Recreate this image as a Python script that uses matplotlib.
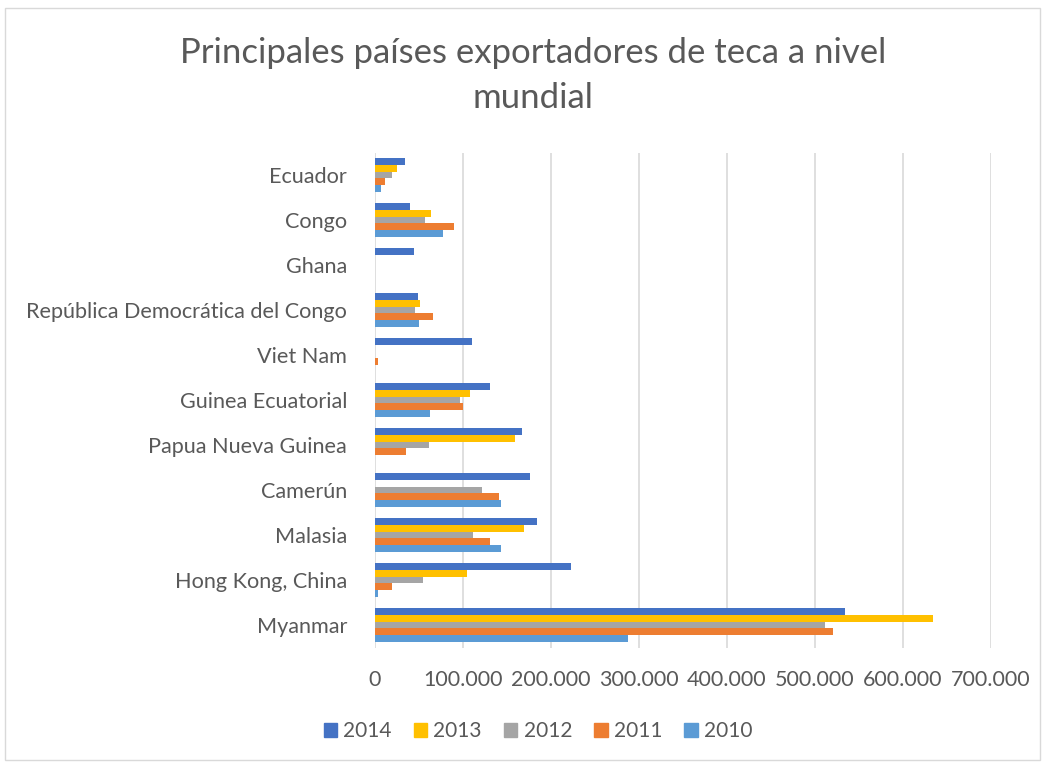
import matplotlib
matplotlib.use("Agg")
import matplotlib.pyplot as plt
from matplotlib.patches import Rectangle, Patch
import numpy as np

categories = ["Myanmar", "Hong Kong, China", "Malasia", "Camerún", "Papua Nueva Guinea",
              "Guinea Ecuatorial", "Viet Nam", "República Democrática del Congo", "Ghana",
              "Congo", "Ecuador"]
years = ["2014", "2013", "2012", "2011", "2010"]
v2014 = [533700, 222400, 184500, 176200, 167500, 131000, 109900, 48900, 44300, 40200, 34500]
v2013 = [633800, 104500, 169300, 0, 159500, 107600, 0, 51600, 0, 64000, 24700]
v2012 = [511000, 55000, 111400, 121300, 61800, 96600, 0, 45500, 0, 56800, 19300]
v2011 = [520900, 19700, 130700, 141300, 34900, 100000, 3400, 66400, 0, 89800, 11400]
v2010 = [288000, 3800, 143600, 142800, 0, 63000, 0, 49700, 0, 76900, 7200]
series = [v2014, v2013, v2012, v2011, v2010]
colors = ["#4472C4", "#FFC000", "#A5A5A5", "#ED7D31", "#5B9BD5"]
xticks = [0, 100000, 200000, 300000, 400000, 500000, 600000, 700000]
xticklabels = ["0", "100.000", "200.000", "300.000", "400.000", "500.000", "600.000", "700.000"]

plt.rcParams['font.family'] = ['Lato', 'DejaVu Sans']
fig = plt.figure(figsize=(10.47, 7.66), dpi=100)
fig.patches.append(Rectangle((5/1047, 1-760/766), 1035/1047, 752/766, transform=fig.transFigure,
                             fill=False, edgecolor="#D9D9D9", linewidth=1))
ax = fig.add_axes([375/1047, 1-647.5/766, 616/1047, 495/766])

y = np.arange(len(categories))
h = 0.147
for i, (vals, c, yr) in enumerate(zip(series, colors, years)):
    offs = (2 - i) * h
    ax.barh(y + offs, vals, height=h, color=c, label=yr, zorder=3)

ax.set_ylim(-0.5, len(categories) - 0.5)
ax.set_xlim(0, 700000)
ax.set_xticks(xticks)
ax.set_xticklabels(xticklabels)
ax.set_yticks(y)
ax.set_yticklabels(categories)
ax.tick_params(axis='x', length=0, labelsize=15.5, labelcolor="#595959", pad=16)
ax.tick_params(axis='y', length=0, labelsize=15.6, labelcolor="#595959", pad=20)
for s in ax.spines.values():
    s.set_visible(False)
ax.xaxis.grid(True, color="#D9D9D9", linewidth=1.2, zorder=0)
ax.set_axisbelow(True)

fig.text(533/1047, 1-53/766, "Principales países exportadores de teca a nivel", ha="center", va="center",
         fontsize=25, color="#595959")
fig.text(533/1047, 1-98/766, "mundial", ha="center", va="center", fontsize=25, color="#595959")

handles = [Patch(color=c, label=yr) for c, yr in zip(colors, years)]
fig.legend(handles=handles, loc="center", bbox_to_anchor=(538/1047, 1-731/766), ncol=5,
           frameon=False, fontsize=15, labelcolor="#595959", handlelength=0.65, handleheight=0.65,
           columnspacing=1.05, handletextpad=0.3)

fig.savefig("out.png", dpi=100)
